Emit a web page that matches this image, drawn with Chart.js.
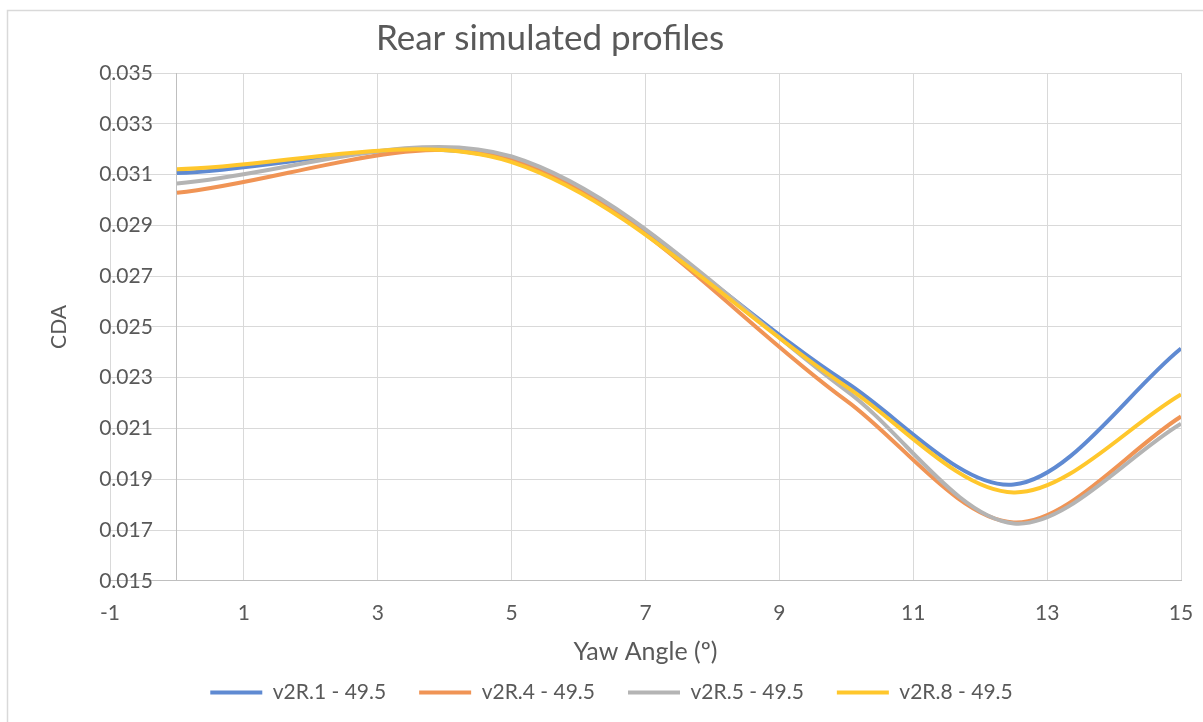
<!DOCTYPE html>
<html>
<head>
<meta charset="utf-8">
<script src="https://cdn.jsdelivr.net/npm/chart.js@4"></script>
<style>
  html,body{margin:0;padding:0;background:#fff;}
  canvas{display:block;}
</style>
</head>
<body>
<canvas id="chart" width="1203" height="722"></canvas>
<script>
// yaw angles (deg) and CdA per profile
const yaw = [0, 5, 10, 12.5, 15];
const v2R1 = [0.03106, 0.03153, 0.02281, 0.01879, 0.02415];
const v2R4 = [0.03028, 0.03163, 0.02210, 0.01730, 0.02147];
const v2R5 = [0.03065, 0.03171, 0.02249, 0.01726, 0.02119];
const v2R8 = [0.03121, 0.03149, 0.02265, 0.01848, 0.02234];
const names = ["v2R.1 - 49.5", "v2R.4 - 49.5", "v2R.5 - 49.5", "v2R.8 - 49.5"];
const xTicks = [-1, 1, 3, 5, 7, 9, 11, 13, 15];
const yTicks = [0.015, 0.017, 0.019, 0.021, 0.023, 0.025, 0.027, 0.029, 0.031, 0.033, 0.035];

const txt = "#595959", grid = "#d9d9d9", axis = "#bfbfbf";
const FONT = "Lato";
const pts = arr => arr.map((v,i)=>({x:yaw[i], y:v}));
const ds = (i, arr, col, ord) => ({
  label:names[i], data:pts(arr), borderColor:col, backgroundColor:col,
  borderWidth:4, pointRadius:0, tension:0.32, fill:false, order:ord
});

// frame, title and y title drawn by hand; legend nudged left like the original
const deco = {
  id:"deco",
  afterLayout(ch){
    const lg = ch.legend;
    if(lg){ lg.left -= 34; lg.right -= 34; }
  },
  beforeDraw(ch){
    const c = ch.ctx;
    c.save();
    c.fillStyle="#fff"; c.fillRect(0,0,ch.width,ch.height);
    c.strokeStyle=grid; c.lineWidth=1.5;
    c.strokeRect(7.5,10.5,ch.width+20,ch.height+20);
    c.restore();
  },
  afterDraw(ch){
    const c = ch.ctx;
    c.save();
    c.fillStyle=txt;
    c.font="35px "+FONT; c.textAlign="center"; c.textBaseline="alphabetic";
    c.fillText("Rear simulated profiles", 550, 50);
    c.translate(59, 327); c.rotate(-Math.PI/2);
    c.font="21px "+FONT; c.textBaseline="middle";
    c.fillText("CDA", 0, 0);
    c.restore();
  }
};

const yRange = {type:"linear", min:0.015, max:0.035,
  afterBuildTicks:s=>{s.ticks = yTicks.map(v=>({value:v}));}};

new Chart(document.getElementById("chart").getContext("2d"), {
  type:"line",
  data:{datasets:[
    ds(0, v2R1, "#5f8ad2", 4),
    ds(1, v2R4, "#f09455", 3),
    ds(2, v2R5, "#b4b4b4", 2),
    ds(3, v2R8, "#ffc72c", 1)
  ]},
  options:{
    responsive:false, animation:false, devicePixelRatio:1,
    layout:{padding:{left:110, right:22, top:73, bottom:9}},
    plugins:{
      title:{display:false}, tooltip:{enabled:false},
      legend:{position:"bottom", labels:{
        usePointStyle:true, pointStyle:"line", pointStyleWidth:52,
        color:txt, font:{family:FONT, size:21}, padding:33,
        sort:(a,b)=>a.datasetIndex-b.datasetIndex
      }}
    },
    scales:{
      x:{type:"linear", min:-1, max:15,
        afterBuildTicks:s=>{s.ticks = xTicks.map(v=>({value:v}));},
        afterFit:s=>{s.paddingRight = 0; s.paddingLeft = 0;},
        grid:{color:grid, drawTicks:false},
        border:{color:axis},
        ticks:{color:txt, font:{family:FONT, size:21}, padding:20, maxRotation:0},
        title:{display:true, text:"Yaw Angle (º)", color:txt,
          font:{family:FONT, size:25}, padding:{top:-9, bottom:-18}}
      },
      // axis line at x = 0, with the grid
      y:{...yRange, position:{x:0},
        grid:{color:grid, drawTicks:false},
        border:{color:axis},
        ticks:{display:false}
      },
      // labels only, set a bit left of the axis line
      yLab:{...yRange, position:{x:-0.36},
        grid:{display:false, drawTicks:false},
        border:{display:false},
        ticks:{color:txt, font:{family:FONT, size:21}, padding:0,
          callback:v=>v.toFixed(3)}
      }
    }
  },
  plugins:[deco]
});
</script>
</body>
</html>
